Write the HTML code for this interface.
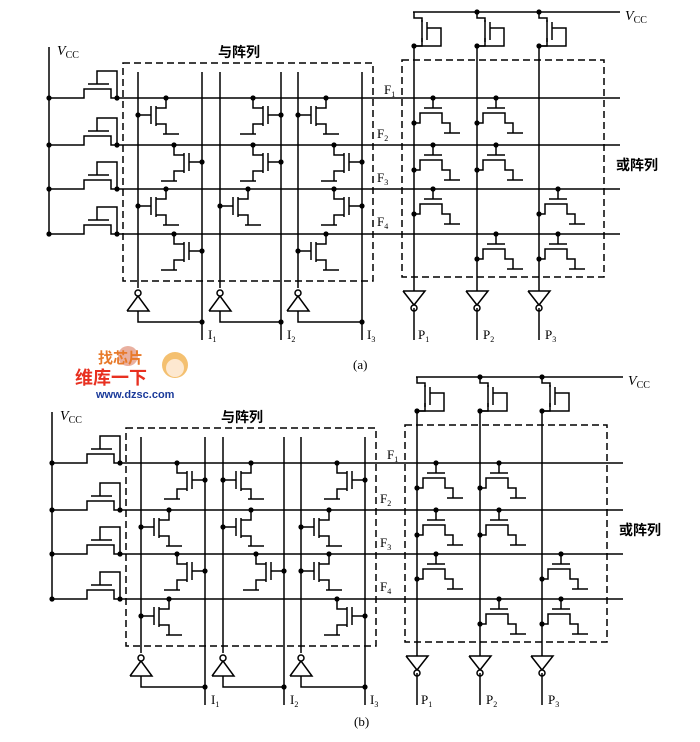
<!DOCTYPE html>
<html><head><meta charset="utf-8"><style>
html,body{margin:0;padding:0;background:#fff}
svg{display:block}
text{font-family:"Liberation Serif","Noto Serif CJK SC",serif;fill:#000}
.cn{font-family:"Liberation Sans","Noto Sans CJK SC",sans-serif;font-weight:bold}
</style></head><body>
<svg id="s" width="700" height="742" viewBox="0 0 700 742" xmlns="http://www.w3.org/2000/svg">
<g id="g" stroke="#000" stroke-width="1.5" fill="none"></g>
<g id="t">
<text x="57" y="55" font-size="14" font-style="italic">V<tspan font-size="10" font-style="normal" dy="3">CC</tspan></text>
<text x="218" y="57" font-size="14" class="cn">与阵列</text>
<text x="625" y="20" font-size="14" font-style="italic">V<tspan font-size="10" font-style="normal" dy="3">CC</tspan></text>
<text x="616" y="170" font-size="14" class="cn">或阵列</text>
<text x="384" y="94" font-size="13">F<tspan font-size="8" dy="3">1</tspan></text>
<text x="377" y="138" font-size="13">F<tspan font-size="8" dy="3">2</tspan></text>
<text x="377" y="182" font-size="13">F<tspan font-size="8" dy="3">3</tspan></text>
<text x="377" y="226" font-size="13">F<tspan font-size="8" dy="3">4</tspan></text>
<text x="208" y="339" font-size="13">I<tspan font-size="8" dy="3">1</tspan></text>
<text x="287" y="339" font-size="13">I<tspan font-size="8" dy="3">2</tspan></text>
<text x="367" y="339" font-size="13">I<tspan font-size="8" dy="3">3</tspan></text>
<text x="418" y="339" font-size="13">P<tspan font-size="8" dy="3">1</tspan></text>
<text x="483" y="339" font-size="13">P<tspan font-size="8" dy="3">2</tspan></text>
<text x="545" y="339" font-size="13">P<tspan font-size="8" dy="3">3</tspan></text>
<text x="353" y="369" font-size="13">(a)</text>

<text x="60" y="420" font-size="14" font-style="italic">V<tspan font-size="10" font-style="normal" dy="3">CC</tspan></text>
<text x="221" y="422" font-size="14" class="cn">与阵列</text>
<text x="628" y="385" font-size="14" font-style="italic">V<tspan font-size="10" font-style="normal" dy="3">CC</tspan></text>
<text x="619" y="535" font-size="14" class="cn">或阵列</text>
<text x="387" y="459" font-size="13">F<tspan font-size="8" dy="3">1</tspan></text>
<text x="380" y="503" font-size="13">F<tspan font-size="8" dy="3">2</tspan></text>
<text x="380" y="547" font-size="13">F<tspan font-size="8" dy="3">3</tspan></text>
<text x="380" y="591" font-size="13">F<tspan font-size="8" dy="3">4</tspan></text>
<text x="211" y="704" font-size="13">I<tspan font-size="8" dy="3">1</tspan></text>
<text x="290" y="704" font-size="13">I<tspan font-size="8" dy="3">2</tspan></text>
<text x="370" y="704" font-size="13">I<tspan font-size="8" dy="3">3</tspan></text>
<text x="421" y="704" font-size="13">P<tspan font-size="8" dy="3">1</tspan></text>
<text x="486" y="704" font-size="13">P<tspan font-size="8" dy="3">2</tspan></text>
<text x="548" y="704" font-size="13">P<tspan font-size="8" dy="3">3</tspan></text>
<text x="354" y="726" font-size="13">(b)</text>

<circle cx="128" cy="356" r="10" fill="#e9b0a0"/>
<text x="98" y="363" font-size="15" class="cn" style="fill:#e87a2a">找芯片</text>
<text x="75" y="384" font-size="18" class="cn" style="fill:#e83020">维库一下</text>
<text x="96" y="398" font-size="11" class="cn" style="fill:#1a3a9a">www.dzsc.com</text>
<circle cx="175" cy="365" r="13" fill="#f4c070"/>
<circle cx="175" cy="368" r="9" fill="#fde8d0"/>
</g>
</svg>
<script>
var g=document.getElementById('g'),NS='http://www.w3.org/2000/svg';
function L(p){var e=document.createElementNS(NS,'polyline');e.setAttribute('points',p.map(function(a){return a.join(',')}).join(' '));g.appendChild(e);}
function D(x,y){var e=document.createElementNS(NS,'circle');e.setAttribute('cx',x);e.setAttribute('cy',y);e.setAttribute('r',2.6);e.setAttribute('fill','#000');e.setAttribute('stroke','none');g.appendChild(e);}
function C(x,y){var e=document.createElementNS(NS,'circle');e.setAttribute('cx',x);e.setAttribute('cy',y);e.setAttribute('r',3);e.setAttribute('fill','#fff');g.appendChild(e);}
function R(x,y,w,h){var e=document.createElementNS(NS,'rect');e.setAttribute('x',x);e.setAttribute('y',y);e.setAttribute('width',w);e.setAttribute('height',h);e.setAttribute('stroke-dasharray','7,4');g.appendChild(e);}
function andT(cx,ry,s){
 var yg=ry+17,gx=cx+13*s,ch=gx+5*s,dx=ch+10*s;
 D(cx,yg);L([[cx,yg],[gx,yg]]);L([[gx,yg-9],[gx,yg+9]]);L([[ch,ry+8],[ch,ry+28]]);
 L([[ch,ry+10],[dx,ry+10],[dx,ry]]);D(dx,ry);
 L([[ch,ry+26],[dx,ry+26],[dx,ry+36]]);L([[dx-3*s,ry+36],[dx+13*s,ry+36]]);
}
function orT(cx,ry){
 var gx=cx+19;D(gx,ry);L([[gx,ry],[gx,ry+10]]);L([[gx-9,ry+10],[gx+9,ry+10]]);
 L([[cx,ry+25],[cx+6,ry+25],[cx+6,ry+15],[gx+9,ry+15],[gx+9,ry+25],[gx+17,ry+25],[gx+17,ry+35]]);D(cx,ry+25);
 L([[gx+11,ry+35],[gx+27,ry+35]]);
}
function inv(x,yb){L([[x-11,yb],[x+11,yb],[x,yb-15],[x-11,yb]]);C(x,yb-18);}
function invD(x,yt){L([[x-11,yt],[x+11,yt],[x,yt+14],[x-11,yt]]);C(x,yt+17);}
function panel(ox,oy,A,O){
 var rows=[98,145,189,234].map(function(r){return r+oy});
 var X=function(v){return v+ox};
 L([[X(49),47+oy],[X(49),rows[3]]]);
 rows.forEach(function(r){
  L([[X(49),r],[X(84),r],[X(84),r-9],[X(111),r-9],[X(111),r],[X(620),r]]);
  D(X(49),r);D(X(117),r);
  L([[X(88),r-14],[X(109),r-14]]);
  L([[X(97),r-14],[X(97),r-27],[X(117),r-27],[X(117),r]]);
 });
 R(X(123),63+oy,250,218);
 var cols=[[138,202],[220,281],[298,362]];
 cols.forEach(function(c){
  L([[X(c[0]),72+oy],[X(c[0]),288+oy]]);L([[X(c[1]),72+oy],[X(c[1]),340+oy]]);
  inv(X(c[0]),311+oy);L([[X(c[0]),311+oy],[X(c[0]),322+oy],[X(c[1]),322+oy]]);D(X(c[1]),322+oy);
 });
 A.forEach(function(a){andT(X(a[1]),rows[a[0]],a[2]);});
 R(X(402),60+oy,202,217);
 L([[X(413),12+oy],[X(620),12+oy]]);
 var oc=[414,477,539];
 oc.forEach(function(c,i){
  var x=X(c);
  L([[x,12+oy],[x,18+oy],[x+8,18+oy],[x+8,22+oy]]);L([[x+8,38+oy],[x+8,46+oy],[x,46+oy]]);
  L([[x+8,20+oy],[x+8,42+oy]]);L([[x+13,22+oy],[x+13,40+oy]]);
  L([[x+13,28+oy],[x+27,28+oy],[x+27,46+oy],[x,46+oy]]);
  if(i>0)D(x,12+oy);D(x,46+oy);
  L([[x,46+oy],[x,291+oy]]);invD(x,291+oy);L([[x,308+oy],[x,340+oy]]);
 });
 O.forEach(function(o){orT(X(oc[o[1]]),rows[o[0]]);});
}
panel(0,0,[[0,138,1],[0,281,-1],[0,298,1],[1,202,-1],[1,281,-1],[1,362,-1],[2,138,1],[2,220,1],[2,362,-1],[3,202,-1],[3,298,1]],
 [[0,0],[0,1],[1,0],[1,1],[2,0],[2,2],[3,1],[3,2]]);
panel(3,365,[[0,202,-1],[0,220,1],[0,362,-1],[1,138,1],[1,220,1],[1,298,1],[2,202,-1],[2,281,-1],[2,298,1],[3,138,1],[3,362,-1]],
 [[0,0],[0,1],[1,0],[1,1],[2,0],[2,2],[3,1],[3,2]]);
</script>
</body></html>
